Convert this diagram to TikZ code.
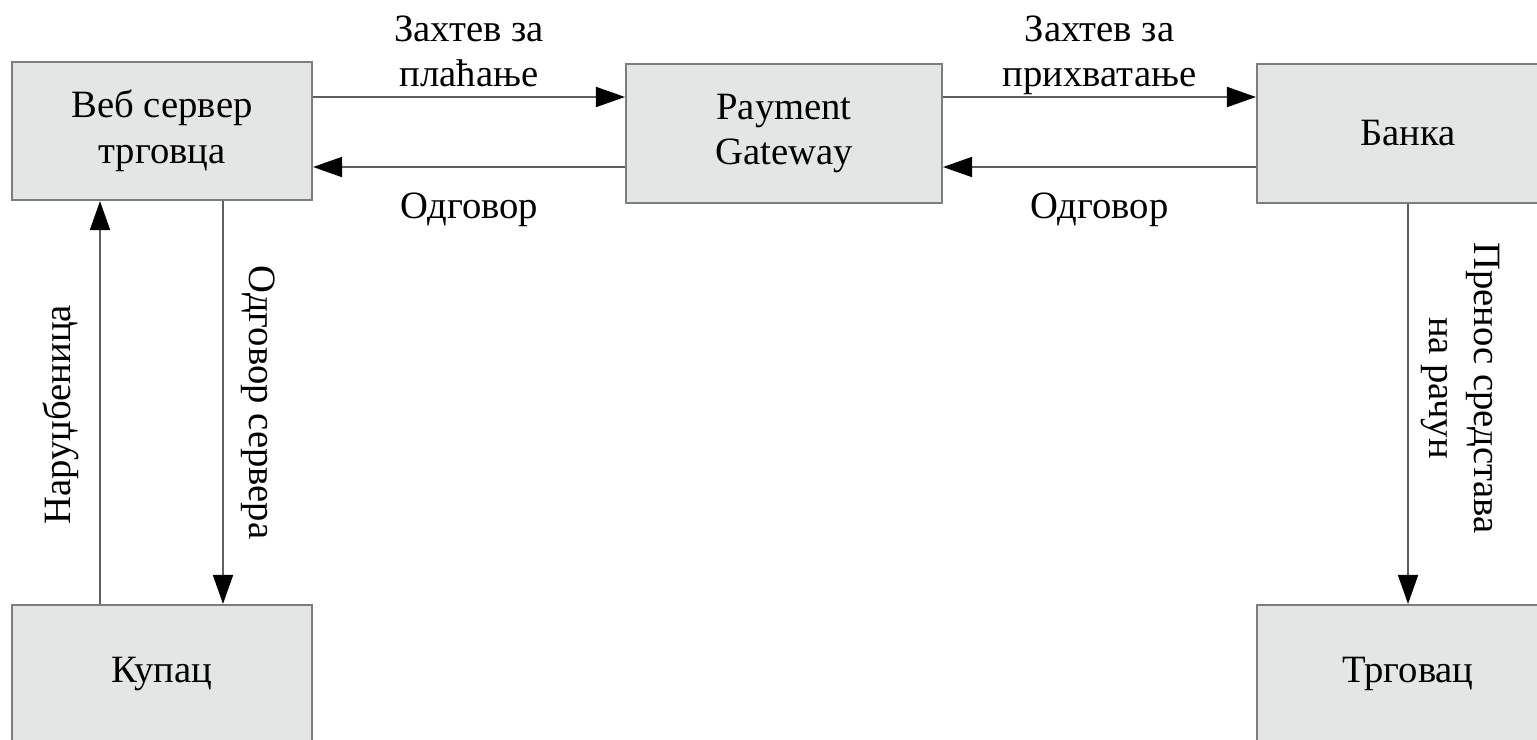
\documentclass[tikz,border=0pt]{standalone}
\usepackage{fontspec}
\setmainfont{Liberation Serif}
\usetikzlibrary{positioning, arrows.meta}
\definecolor{BoxFill}{RGB}{228,230,230}
\definecolor{BoxLine}{RGB}{125,125,125}
\definecolor{LinkLine}{RGB}{95,95,95}

\begin{document}
\begin{tikzpicture}[
    every node/.style={font=\fontsize{11}{13}\selectfont},
    >={Triangle[length=2.9mm, width=2mm, color=black]},
    party/.style={rectangle, draw=BoxLine, line width=0.6pt, fill=BoxFill, minimum width=3cm, minimum height=1.38cm, align=center, inner sep=0pt},
    link/.style={->, draw=LinkLine, line width=0.5pt},
    lbl/.style={align=center, inner sep=0pt},
]

% Frame
\useasboundingbox (0,0) rectangle (15.37,-7.39);
\clip (0,0) rectangle (15.37,-7.39);

% Parties
\node[party] (web) at (1.62,-1.31) {Веб сервер\\трговца};
\node[party, minimum width=3.16cm, minimum height=1.39cm] (gateway) at (7.84,-1.335) {Payment\\Gateway};
\node[party, minimum width=3.02cm, minimum height=1.39cm] (bank) at (14.08,-1.335) {Банка};
\node[party] (buyer) at (1.62,-6.74) {Купац};
\node[party, minimum width=3.02cm] (merchant) at (14.08,-6.74) {Трговац};

% Requests and answers
\draw[link] ([yshift=3.4mm]web.east) -- ([yshift=3.4mm]web.east -| gateway.west)
    node[midway, above=0.9mm, lbl] (payreq) {Захтев за\\плаћање};
\draw[link] ([yshift=-3.35mm]gateway.west) -- ([yshift=-3.35mm]gateway.west -| web.east)
    node[midway, below=2.5mm, lbl] (payans) {Одговор};
\draw[link] ([yshift=3.65mm]gateway.east) -- ([yshift=3.65mm]gateway.east -| bank.west)
    node[midway, above=0.1mm, lbl] (accreq) {Захтев за\\прихватање};
\draw[link] ([yshift=-3.35mm]bank.west) -- ([yshift=-3.35mm]bank.west -| gateway.east)
    node[midway, below=2.5mm, lbl] (accans) {Одговор};

% Buyer and web server
\draw[link] ([xshift=-6.2mm]buyer.north) -- ([xshift=-6.2mm]buyer.north |- web.south)
    node[pos=0.47, sloped, above=2mm, lbl] (order) {Наруџбеница};
\draw[link] ([xshift=6.1mm]web.south) -- ([xshift=6.1mm]web.south |- buyer.north)
    node[midway, sloped, above=1.7mm, lbl] (srvans) {Одговор сервера};

% Bank to merchant
\draw[link] (bank.south) -- (merchant.north)
    node[pos=0.46, sloped, above=1.2mm, lbl] (transfer) {Пренос средстава\\на рачун};

\end{tikzpicture}
\end{document}
